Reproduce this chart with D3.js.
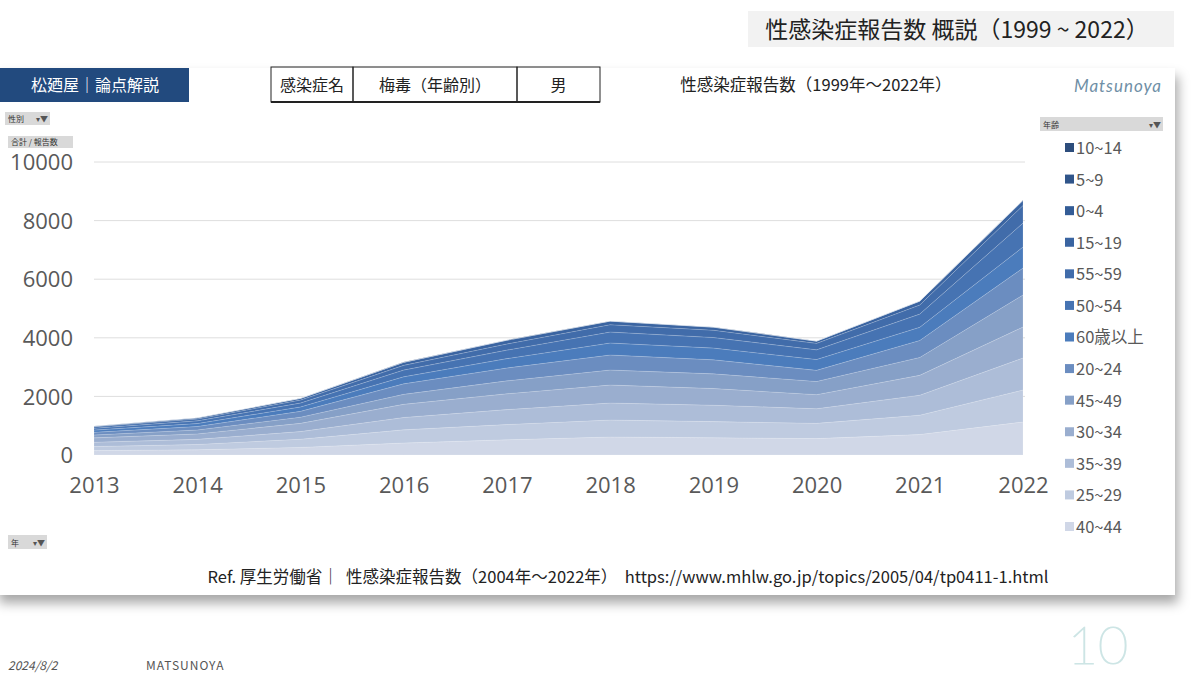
<!DOCTYPE html>
<html>
<head>
<meta charset="utf-8">
<script src="https://cdn.jsdelivr.net/npm/d3@7"></script>
<style>
  body { margin: 0; background: #fff; }
  svg { display: block; font-family: "Noto Sans CJK JP", "Noto Sans", sans-serif; }
</style>
</head>
<body>
<div id="root"></div>
<script>
// years on the x axis
const years = [2013, 2014, 2015, 2016, 2017, 2018, 2019, 2020, 2021, 2022]

// age groups, bottom of the stack first
const ageGroups = ['40~44', '25~29', '35~39', '30~34', '45~49', '20~24', '60歳以上', '50~54', '55~59', '15~19', '0~4', '5~9', '10~14']

// reports per age group (male syphilis)
const v40_44 = [150, 180, 260, 410, 520, 614, 590, 560, 700, 1126]
const v25_29 = [140, 180, 280, 450, 520, 580, 550, 520, 660, 1092]
const v35_39 = [145, 175, 260, 420, 510, 580, 560, 500, 680, 1092]
const v30_34 = [150, 185, 280, 450, 540, 614, 570, 480, 680, 1058]
const v45_49 = [100, 135, 210, 340, 440, 512, 500, 450, 610, 1092]
const v20_24 = [90, 120, 200, 360, 440, 512, 480, 380, 580, 920]
const v60plus = [75, 100, 150, 240, 320, 410, 400, 370, 450, 717]
const v50_54 = [65, 90, 135, 230, 290, 375, 360, 330, 450, 819]
const v55_59 = [45, 65, 100, 160, 210, 250, 250, 220, 310, 600]
const v15_19 = [25, 35, 55, 100, 125, 120, 100, 75, 130, 170]
const v0_4 = [3, 5, 3, 8, 6, 4, 7, 4, 4, 10]
const v5_9 = [1, 0, 1, 0, 1, 1, 0, 0, 1, 1]
const v10_14 = [1, 2, 1, 2, 3, 1, 3, 1, 1, 3]

const seriesValues = [v40_44, v25_29, v35_39, v30_34, v45_49, v20_24, v60plus, v50_54, v55_59, v15_19, v0_4, v5_9, v10_14]

const yTicks = [0, 2000, 4000, 6000, 8000, 10000]

// colours, same order as ageGroups
const colours = ['#d0d7e7', '#bfcbe0', '#adbdd8', '#9aaecf', '#86a0c7', '#6b8dc0', '#4b7cbc', '#4673b2', '#416caa', '#3a64a1', '#335c96', '#30558a', '#2d4d7c']

const rows = years.map((yr, i) => {
    const row = { year: yr }
    ageGroups.forEach((g, j) => { row[g] = seriesValues[j][i] })
    return row
})

const width = 1200
const height = 675

const svg = d3.select('#root').append('svg')
    .attr('width', width).attr('height', height)

const defs = svg.append('defs')
const shadow = defs.append('filter').attr('id', 'shadow')
    .attr('x', '-5%').attr('y', '-5%').attr('width', '112%').attr('height', '120%')
shadow.append('feDropShadow')
    .attr('dx', 3).attr('dy', 8).attr('stdDeviation', 6)
    .attr('flood-color', '#000').attr('flood-opacity', 0.35)

// page title box
svg.append('rect').attr('x', 748).attr('y', 11).attr('width', 426).attr('height', 36).attr('fill', '#f2f2f2')
svg.append('text').attr('x', 957).attr('y', 38).attr('text-anchor', 'middle')
    .attr('font-size', 23).attr('fill', '#222')
    .text('性感染症報告数 概説（1999 ~ 2022）')

// chart panel
svg.append('rect').attr('x', -4).attr('y', 68).attr('width', 1179).attr('height', 527)
    .attr('fill', '#fff').attr('filter', 'url(#shadow)')

// header bits
svg.append('rect').attr('x', 0).attr('y', 68).attr('width', 189).attr('height', 34).attr('fill', '#224a7e')
svg.append('text').attr('x', 95).attr('y', 91).attr('text-anchor', 'middle')
    .attr('font-size', 16).attr('fill', '#fff').text('松廼屋｜論点解説')

const cells = [
    { x0: 271, x1: 353, label: '感染症名' },
    { x0: 353, x1: 517, label: '梅毒（年齢別）' },
    { x0: 517, x1: 600, label: '男' }
]
cells.forEach(c => {
    svg.append('rect').attr('x', c.x0).attr('y', 67).attr('width', c.x1 - c.x0).attr('height', 35)
        .attr('fill', 'none').attr('stroke', '#222').attr('stroke-width', 1)
    svg.append('text').attr('x', (c.x0 + c.x1) / 2).attr('y', 91).attr('text-anchor', 'middle')
        .attr('font-size', 16).attr('fill', '#222').text(c.label)
})
svg.append('line').attr('x1', 271).attr('x2', 600).attr('y1', 102).attr('y2', 102)
    .attr('stroke', '#222').attr('stroke-width', 2)

svg.append('text').attr('x', 816).attr('y', 91).attr('text-anchor', 'middle')
    .attr('font-size', 16.5).attr('fill', '#222').text('性感染症報告数（1999年～2022年）')
svg.append('text').attr('x', 1118).attr('y', 92).attr('text-anchor', 'middle')
    .attr('font-size', 17).attr('font-style', 'italic').attr('font-family', 'Lato, sans-serif')
    .attr('letter-spacing', 1).attr('fill', '#6f8fa6').text('Matsunoya')

// little pivot field buttons
const button = (x, y, w, h, label, arrow) => {
    svg.append('rect').attr('x', x).attr('y', y).attr('width', w).attr('height', h).attr('fill', '#d9d9d9')
    svg.append('text').attr('x', x + 3).attr('y', y + h - 3).attr('font-size', 8).attr('fill', '#333').text(label)
    if (arrow) {
        svg.append('text').attr('x', x + w - 2).attr('y', y + h - 3).attr('text-anchor', 'end')
            .attr('font-size', 8).attr('fill', '#555').text('▾▼')
    }
}
button(5, 112, 45, 13, '性別', true)
button(8, 136, 65, 12, '合計 / 報告数', false)
button(1040, 117, 123, 14, '年齢', true)
button(8, 535, 39, 14, '年', true)

// scales
const x = d3.scaleLinear().domain([2013, 2022]).range([94, 1023])
const y = d3.scaleLinear().domain([0, 10000]).range([455, 162])

// gridlines
svg.append('g').selectAll('line').data(yTicks.filter(t => t > 0)).enter().append('line')
    .attr('x1', 94).attr('x2', 1025)
    .attr('y1', d => y(d)).attr('y2', d => y(d))
    .attr('stroke', '#dedede').attr('stroke-width', 1)

// stacked areas
const stack = d3.stack().keys(ageGroups)
const layers = stack(rows)
const area = d3.area()
    .x(d => x(d.data.year))
    .y0(d => y(d[0]))
    .y1(d => y(d[1]))

svg.append('g').selectAll('path').data(layers).enter().append('path')
    .attr('d', area)
    .attr('fill', (d, i) => colours[i])
    .attr('stroke', 'rgba(255,255,255,0.25)').attr('stroke-width', 0.6)

// axes
const yAxis = d3.axisLeft(y).tickValues(yTicks).tickFormat(d3.format('d')).tickSize(0).tickPadding(0)
const gy = svg.append('g').attr('transform', 'translate(73,0)').call(yAxis)
gy.select('.domain').remove()
gy.selectAll('text').attr('font-size', 22).attr('fill', '#595959')
    .attr('font-family', '"Open Sans", sans-serif').attr('dy', '0.35em')

const xAxis = d3.axisBottom(x).tickValues(years).tickFormat(d3.format('d')).tickSize(0).tickPadding(0)
const gx = svg.append('g').attr('transform', 'translate(0,476)').call(xAxis)
gx.select('.domain').remove()
gx.selectAll('text').attr('font-size', 22).attr('fill', '#595959')
    .attr('font-family', '"Open Sans", sans-serif').attr('dy', '0.75em')

// legend, top of stack first
const legendItems = ageGroups.map((g, i) => ({ label: g, colour: colours[i] })).reverse()
const legendY = d3.scalePoint().domain(legendItems.map(d => d.label)).range([148, 527])
const lg = svg.append('g').selectAll('g').data(legendItems).enter().append('g')
    .attr('transform', d => 'translate(1065,' + legendY(d.label) + ')')
lg.append('rect').attr('x', 0).attr('y', -5).attr('width', 9).attr('height', 9).attr('fill', d => d.colour)
lg.append('text').attr('x', 11).attr('y', 0).attr('dy', '0.36em')
    .attr('font-size', 16.5).attr('fill', '#595959').text(d => d.label)

// source line
svg.append('text').attr('x', 628).attr('y', 583).attr('text-anchor', 'middle')
    .attr('font-size', 16.5).attr('fill', '#222').style('white-space', 'pre')
    .text('Ref. 厚生労働省｜  性感染症報告数（2004年～2022年）  https://www.mhlw.go.jp/topics/2005/04/tp0411-1.html')

// footer
svg.append('text').attr('x', 8).attr('y', 670).attr('font-size', 12).attr('fill', '#555')
    .attr('font-style', 'italic').text('2024/8/2')
svg.append('text').attr('x', 146).attr('y', 670).attr('font-size', 12).attr('fill', '#555')
    .attr('letter-spacing', 1).text('MATSUNOYA')
svg.append('text').attr('x', 1098).attr('y', 664).attr('text-anchor', 'middle')
    .attr('font-size', 52).attr('font-weight', 200).attr('font-family', 'Lato, sans-serif')
    .attr('fill', 'none').attr('stroke', '#cde5e5').attr('stroke-width', 1.2).text('10')
</script>
</body>
</html>
